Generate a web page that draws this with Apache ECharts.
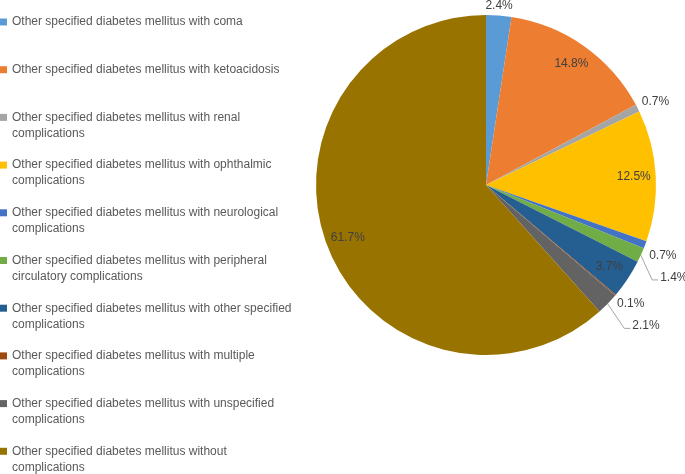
<!DOCTYPE html>
<html>
<head>
<meta charset="utf-8">
<script src="https://cdn.jsdelivr.net/npm/echarts@6/dist/echarts.min.js"></script>
<style>
  html, body { margin: 0; padding: 0; background: #fff; }
  #main { width: 685px; height: 474px; }
</style>
</head>
<body>
<div id="main"></div>
<script>
var chart = echarts.init(document.getElementById('main'));

// categories
var names = [
    'Other specified diabetes mellitus with coma',
    'Other specified diabetes mellitus with ketoacidosis',
    'Other specified diabetes mellitus with renal complications',
    'Other specified diabetes mellitus with ophthalmic complications',
    'Other specified diabetes mellitus with neurological complications',
    'Other specified diabetes mellitus with peripheral circulatory complications',
    'Other specified diabetes mellitus with other specified complications',
    'Other specified diabetes mellitus with multiple complications',
    'Other specified diabetes mellitus with unspecified complications',
    'Other specified diabetes mellitus without complications'
];
// legend text as wrapped in the picture
var legendText = [
    'Other specified diabetes mellitus with coma\n ',
    'Other specified diabetes mellitus with ketoacidosis\n ',
    'Other specified diabetes mellitus with renal\ncomplications',
    'Other specified diabetes mellitus with ophthalmic\ncomplications',
    'Other specified diabetes mellitus with neurological\ncomplications',
    'Other specified diabetes mellitus with peripheral\ncirculatory complications',
    'Other specified diabetes mellitus with other specified\ncomplications',
    'Other specified diabetes mellitus with multiple\ncomplications',
    'Other specified diabetes mellitus with unspecified\ncomplications',
    'Other specified diabetes mellitus without\ncomplications'
];
// share, %
var values = [2.4, 14.8, 0.7, 12.5, 0.7, 1.4, 3.7, 0.1, 2.1, 61.7];
var colors = ['#5B9BD5', '#ED7D31', '#A5A5A5', '#FFC000', '#4472C4',
              '#70AD47', '#255E91', '#9E480E', '#636363', '#997300'];
// which labels sit inside the slice
var inside = [false, true, false, true, false, false, true, false, false, true];
// label line shown for these outside labels
var withLine = [false, false, false, false, false, true, false, false, true, false];
// nudges of the outside labels from their default place [dx, dy]
var labelNudge = {
    0: [-23, -1.5],
    2: [-12, -2.5],
    4: [-12.5, 8],
    5: [3, 19],
    7: [-13.5, 3.5],
    8: [10, 16.5]
};

var labelFont = 'Liberation Sans';

var mainData = values.map(function (v, i) {
    return {
        name: names[i],
        value: v,
        itemStyle: { color: colors[i] },
        label: { show: !inside[i] },
        labelLine: { show: withLine[i] }
    };
});
var overlayData = values.map(function (v, i) {
    return {
        name: names[i],
        value: v,
        itemStyle: { color: 'rgba(0,0,0,0)' },
        label: { show: inside[i] }
    };
});

var option = {
    animation: false,
    color: colors,
    legend: {
        orient: 'vertical',
        left: 0,
        top: 14,
        height: 500,
        padding: 0,
        itemGap: 15.7,
        itemWidth: 7,
        itemHeight: 32,
        icon: 'path://M0,0L0,0M0,4.5L7,4.5L7,11.5L0,11.5ZM7,32L7,32',
        data: names,
        formatter: function (name) {
            return legendText[names.indexOf(name)];
        },
        textStyle: {
            color: '#595959',
            fontSize: 12,
            fontFamily: labelFont,
            lineHeight: 16
        }
    },
    series: [{
        type: 'pie',
        center: [486, 185],
        radius: 170,
        startAngle: 90,
        clockwise: true,
        silent: true,
        avoidLabelOverlap: false,
        itemStyle: { borderWidth: 0 },
        label: {
            position: 'outside',
            formatter: '{c}%',
            color: '#404040',
            fontSize: 12,
            fontFamily: labelFont,
            overflow: 'none',
            distanceToLabelLine: 3
        },
        labelLine: {
            length: 8,
            length2: 6,
            lineStyle: { color: '#A6A6A6', width: 1 }
        },
        labelLayout: function (params) {
            var n = labelNudge[params.dataIndex];
            if (!n) {
                return;
            }
            var r = params.labelRect;
            var left = r.x + n[0];
            var cy = r.y + r.height / 2 + n[1];
            var out = { dx: n[0], dy: n[1] };
            if (withLine[params.dataIndex] && params.labelLinePoints) {
                var p0 = params.labelLinePoints[0];
                out.labelLinePoints = [
                    [p0[0], p0[1]],
                    [left - 8, cy + 2.5],
                    [left - 2, cy + 2.5]
                ];
            }
            return out;
        },
        data: mainData
    }, {
        type: 'pie',
        center: [486, 185],
        radius: [120, 170],
        startAngle: 90,
        clockwise: true,
        silent: true,
        label: {
            position: 'inside',
            formatter: '{c}%',
            color: '#404040',
            fontSize: 12,
            fontFamily: labelFont
        },
        labelLine: { show: false },
        data: overlayData
    }]
};

chart.setOption(option);
</script>
</body>
</html>
